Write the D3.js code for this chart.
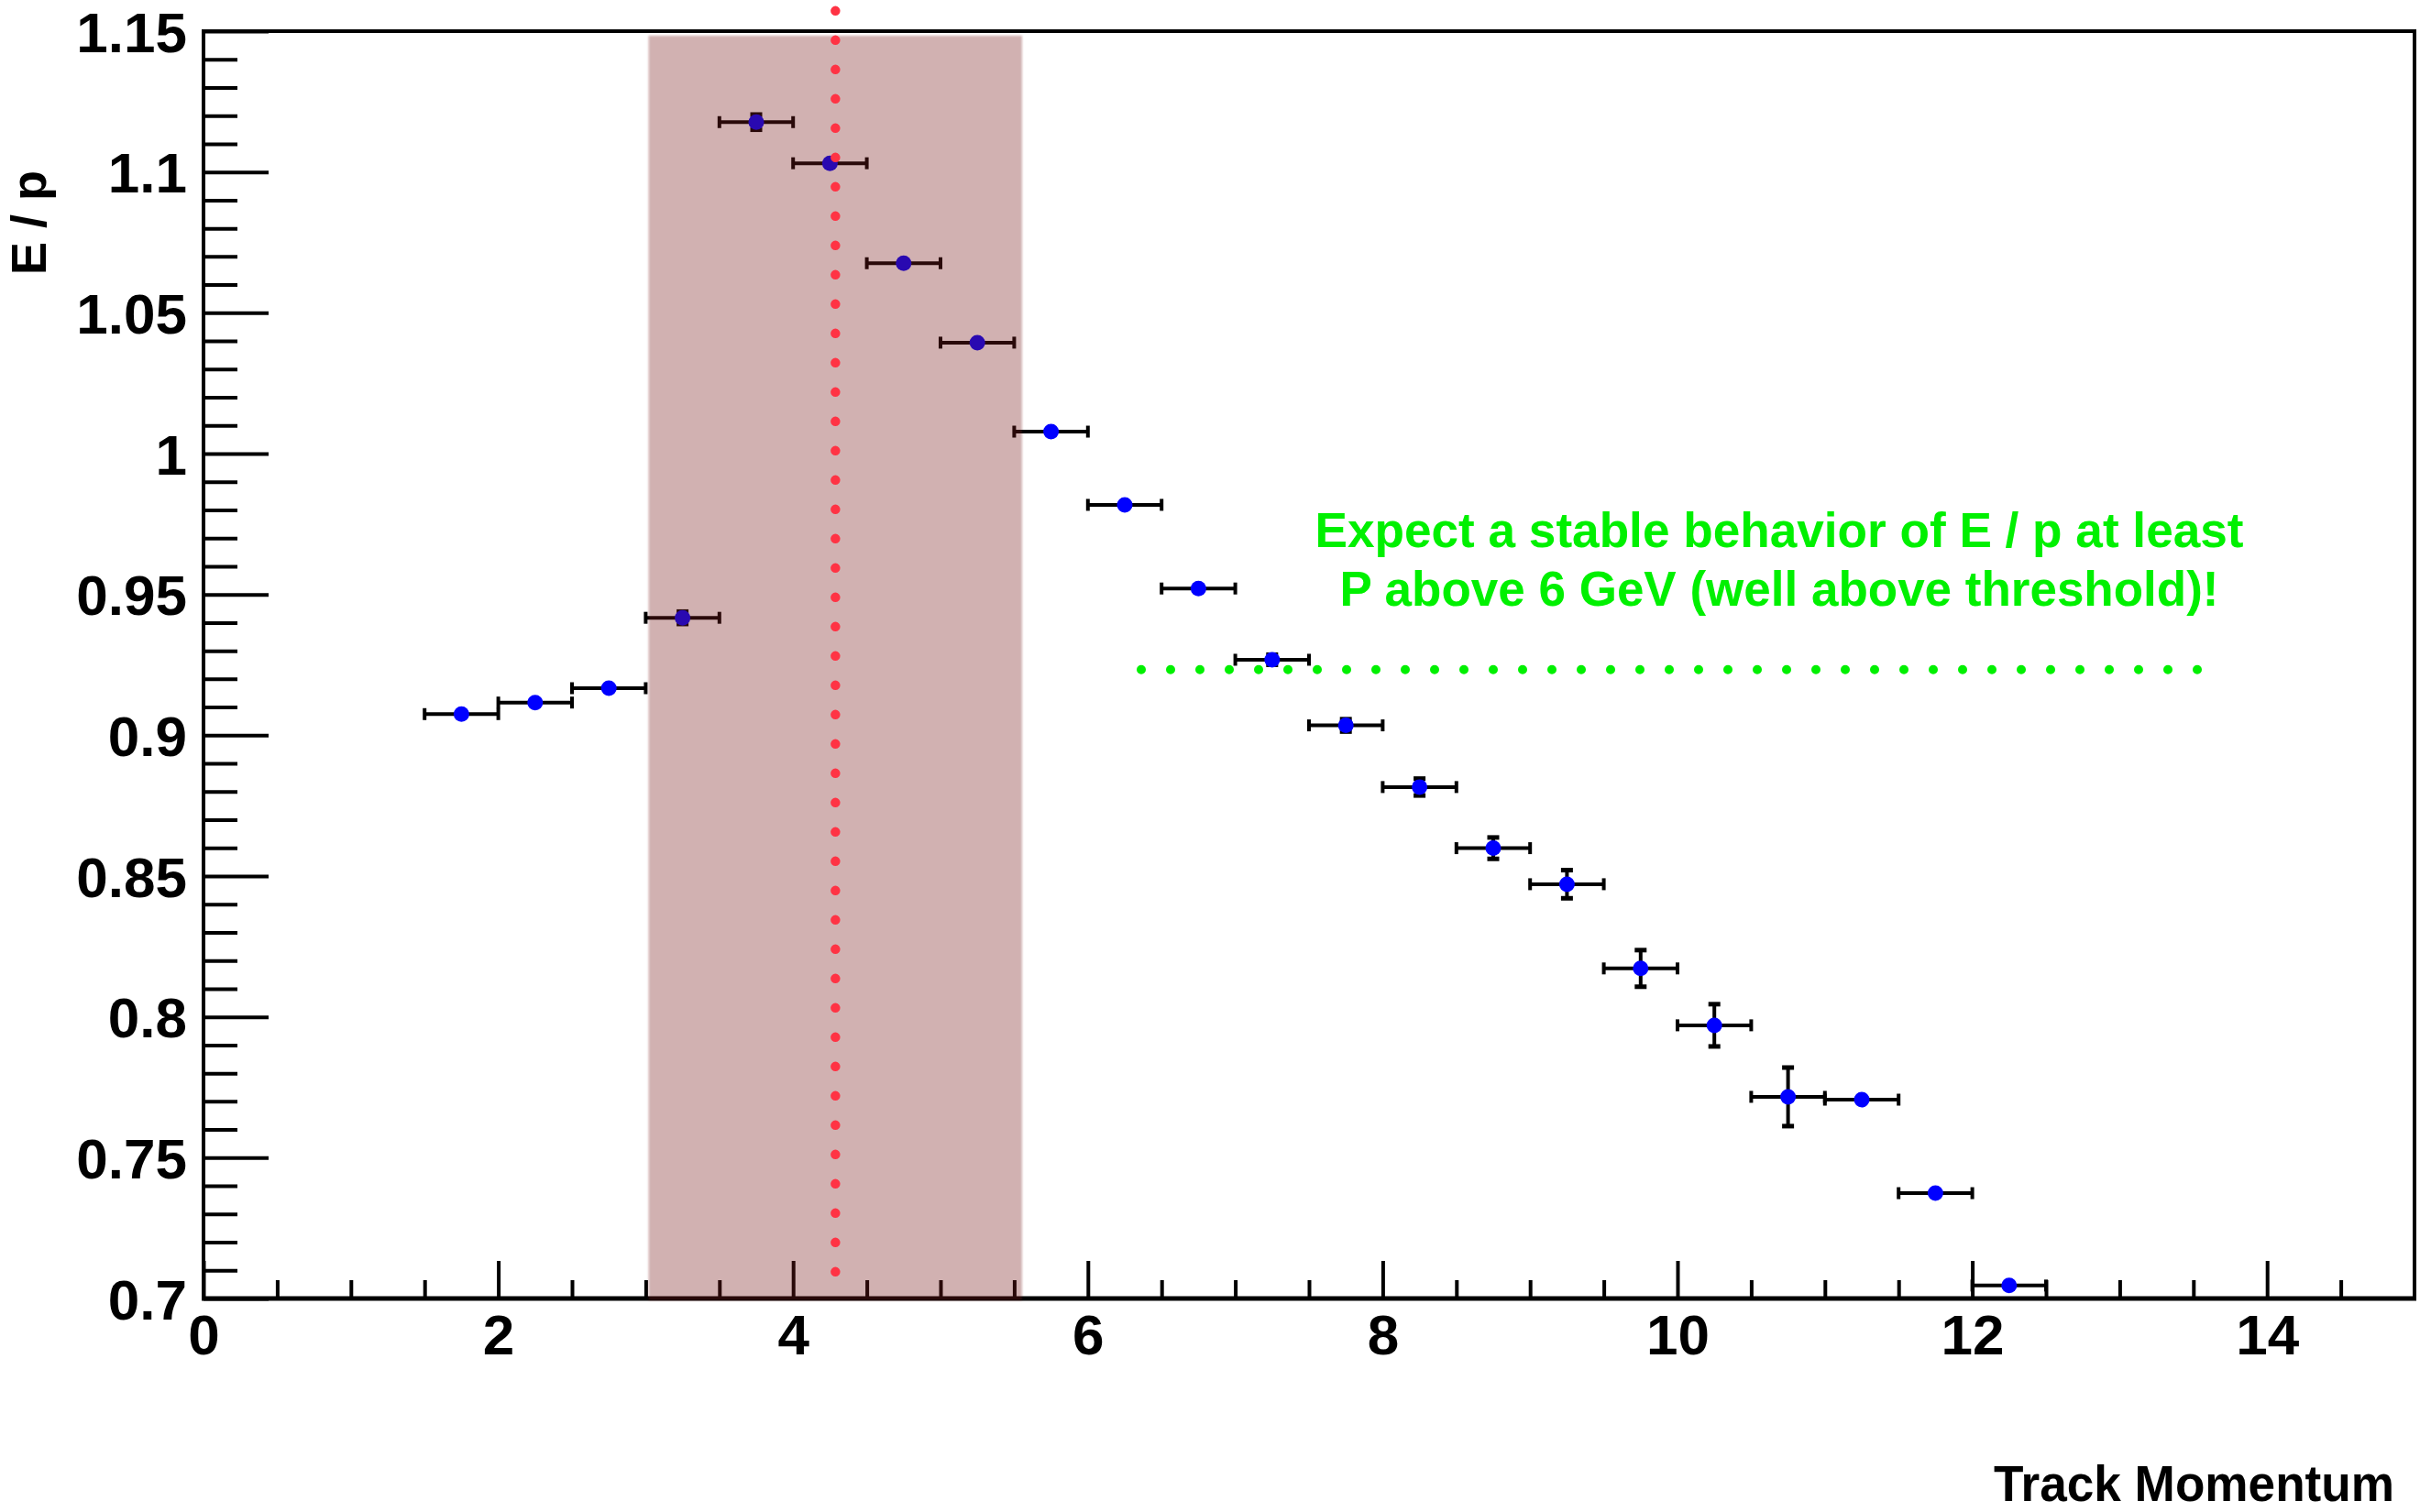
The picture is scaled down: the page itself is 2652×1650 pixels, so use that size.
<!DOCTYPE html>
<html>
<head>
<meta charset="utf-8">
<script src="https://cdn.jsdelivr.net/npm/d3@7"></script>
<style>
  body { margin: 0; background: #fff; }
  text { font-family: "Liberation Sans", Arial, Helvetica, sans-serif; font-weight: bold; }
</style>
</head>
<body>
<svg id="chart" width="2652" height="1650"></svg>
<script>
// momentum bins (centres) and E/p values
var pCenters = [1.75, 2.25, 2.75, 3.25, 3.75, 4.25, 4.75, 5.25, 5.75, 6.25, 6.75,
                7.25, 7.75, 8.25, 8.75, 9.25, 9.75, 10.25, 10.75, 11.25, 11.75, 12.25];
var epValues = [0.9075, 0.9116, 0.9167, 0.9417, 1.1177, 1.1031, 1.0676, 1.0394, 1.0078, 0.9818, 0.9521,
                0.9268, 0.9035, 0.8816, 0.8599, 0.8471, 0.8172, 0.7970, 0.7716, 0.7706, 0.7374, 0.7046];
var epErrors = [0, 0, 0, 0.0022, 0.0027, 0, 0, 0, 0, 0, 0,
                0.0018, 0.0022, 0.003, 0.0038, 0.005, 0.0065, 0.0075, 0.0104, 0, 0, 0];
var pHalfWidth = 0.25;

var xMajorTicks = [0, 2, 4, 6, 8, 10, 12, 14];
var yMajorTicks = [0.7, 0.75, 0.8, 0.85, 0.9, 0.95, 1, 1.05, 1.1, 1.15];

// annotations
var bandRange = [3.02, 5.553];     // shaded region in p
var bandTop = 1.1484;
var cutP = 4.287;                  // red dotted line
var cutRange = [0.7088, 1.1572];
var stableLevel = 0.9233;          // green dotted line
var stableRange = [6.362, 13.53];
var noteLines = ["Expect a stable behavior of E / p at least",
                 "P above 6 GeV (well above threshold)!"];

var svg = d3.select("#chart");
var padL = 222, padR = 2634, padT = 34, padB = 1417;

var x = d3.scaleLinear().domain([0, 15]).range([padL, padR]);
var y = d3.scaleLinear().domain([0.7, 1.15]).range([padB, padT]);

// minor ticks
var xMinor = d3.range(0, 15, 0.5).filter(function(v){ return v % 2 != 0; });
var yMinor = d3.range(70, 115, 1).map(function(v){ return v / 100; })
               .filter(function(v){ return Math.round(v * 100) % 5 != 0; });

var gx = svg.append("g").attr("transform", "translate(0," + padB + ")");
gx.call(d3.axisBottom(x).tickValues(xMinor).tickSize(-20).tickFormat(""));
var gxMaj = svg.append("g").attr("transform", "translate(0," + padB + ")");
gxMaj.call(d3.axisBottom(x).tickValues(xMajorTicks).tickSize(-41).tickPadding(17)
          .tickFormat(function(d){ return d; }));
gx.selectAll(".domain").remove();
gxMaj.selectAll(".domain").remove();
gxMaj.selectAll("text").attr("font-size", 62).attr("fill", "#000")
  .style("font-family", "'Liberation Sans', Arial, sans-serif").style("font-weight", "bold");

var gy = svg.append("g").attr("transform", "translate(" + padL + ",0)");
gy.call(d3.axisLeft(y).tickValues(yMinor).tickSize(-37).tickFormat(""));
var gyMaj = svg.append("g").attr("transform", "translate(" + padL + ",0)");
gyMaj.call(d3.axisLeft(y).tickValues(yMajorTicks).tickSize(-71).tickPadding(18)
          .tickFormat(function(d){ return d3.format("")(+d.toFixed(2)); }));
gy.selectAll(".domain").remove();
gyMaj.selectAll(".domain").remove();
gyMaj.selectAll("text").attr("font-size", 62).attr("fill", "#000").attr("dy", "0.36em")
  .style("font-family", "'Liberation Sans', Arial, sans-serif").style("font-weight", "bold");
svg.selectAll("g.tick line").attr("stroke", "#000").attr("stroke-width", 4);

// frame
svg.append("rect").attr("x", padL).attr("y", padT)
   .attr("width", padR - padL).attr("height", padB - padT)
   .attr("fill", "none").attr("stroke", "#000").attr("stroke-width", 4);
svg.append("line").attr("x1", padL - 2).attr("x2", padR + 2)
   .attr("y1", padB).attr("y2", padB).attr("stroke", "#000").attr("stroke-width", 5);

// data points with error bars
var pts = svg.append("g");
var cap = 6.5;
pCenters.forEach(function(p, i) {
  var cx = x(p), cy = y(epValues[i]);
  var x0 = x(p - pHalfWidth), x1 = x(p + pHalfWidth);
  pts.append("line").attr("x1", x0).attr("x2", x1).attr("y1", cy).attr("y2", cy)
     .attr("stroke", "#000").attr("stroke-width", 4);
  [x0, x1].forEach(function(xe){
    pts.append("line").attr("x1", xe).attr("x2", xe).attr("y1", cy - cap).attr("y2", cy + cap)
       .attr("stroke", "#000").attr("stroke-width", 4);
  });
  if (epErrors[i] > 0) {
    var ya = y(epValues[i] + epErrors[i]), yb = y(epValues[i] - epErrors[i]);
    pts.append("line").attr("x1", cx).attr("x2", cx).attr("y1", ya).attr("y2", yb)
       .attr("stroke", "#000").attr("stroke-width", 4);
    [ya, yb].forEach(function(ye){
      pts.append("line").attr("x1", cx - cap).attr("x2", cx + cap).attr("y1", ye).attr("y2", ye)
         .attr("stroke", "#000").attr("stroke-width", 5);
    });
  }
  pts.append("circle").attr("cx", cx).attr("cy", cy).attr("r", 8.5).attr("fill", "#0000ff");
});

// shaded band (drawn on top, semi transparent)
var defs = svg.append("defs");
defs.append("filter").attr("id", "soft").append("feGaussianBlur").attr("stdDeviation", 1.2);
svg.append("rect")
   .attr("x", x(bandRange[0])).attr("y", y(bandTop))
   .attr("width", x(bandRange[1]) - x(bandRange[0]))
   .attr("height", y(0.7) - y(bandTop) + 2)
   .attr("fill", "rgb(119,21,36)").attr("fill-opacity", 0.34)
   .attr("filter", "url(#soft)");

// red dotted line
svg.append("line")
   .attr("x1", x(cutP)).attr("x2", x(cutP))
   .attr("y1", y(cutRange[1])).attr("y2", y(cutRange[0]))
   .attr("stroke", "#ff3344").attr("stroke-width", 10.5)
   .attr("stroke-linecap", "round").attr("stroke-dasharray", "0 32");

// green dotted line
svg.append("line")
   .attr("x1", x(stableRange[0])).attr("x2", x(stableRange[1]))
   .attr("y1", y(stableLevel)).attr("y2", y(stableLevel))
   .attr("stroke", "#00f000").attr("stroke-width", 10)
   .attr("stroke-linecap", "round").attr("stroke-dasharray", "0 32");

// note
var noteWidths = [1013, 959];
var noteY = [597, 661];
noteLines.forEach(function(t, i) {
  svg.append("text").attr("x", 1941).attr("y", noteY[i])
     .attr("text-anchor", "middle").attr("font-size", 53).attr("fill", "#00f000")
     .attr("textLength", noteWidths[i]).attr("lengthAdjust", "spacingAndGlyphs")
     .text(t);
});

// axis titles
svg.append("text").attr("x", 2612).attr("y", 1638).attr("text-anchor", "end")
   .attr("font-size", 56).attr("textLength", 437).attr("lengthAdjust", "spacingAndGlyphs")
   .attr("fill", "#000").text("Track Momentum");
svg.append("text").attr("transform", "translate(50,186) rotate(-90)")
   .attr("text-anchor", "end").attr("font-size", 54).attr("fill", "#000")
   .text("E / p");
</script>
</body>
</html>
